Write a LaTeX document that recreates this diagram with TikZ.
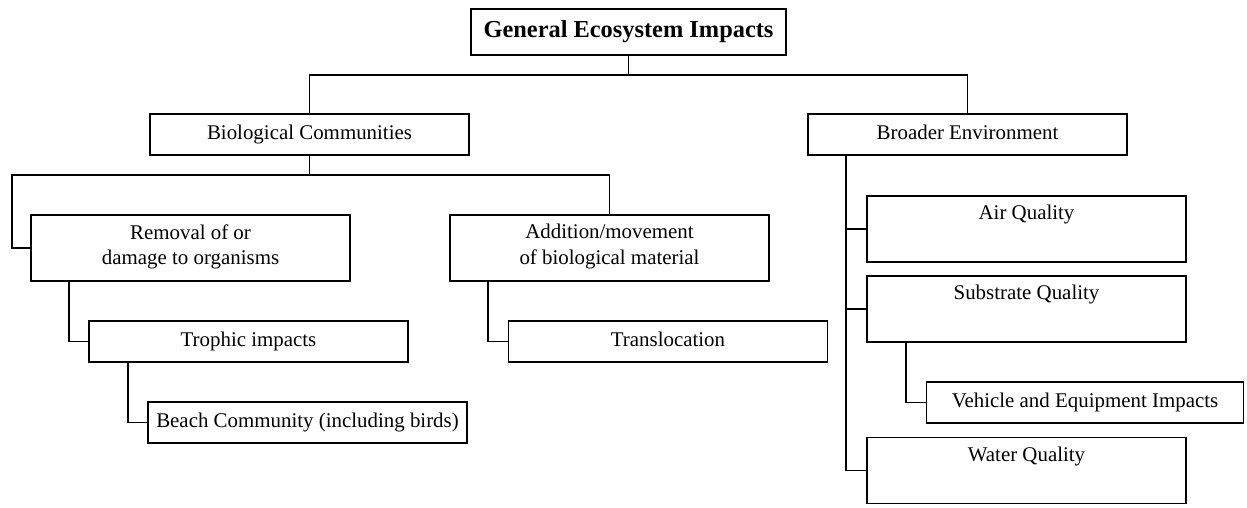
\documentclass[tikz,border=0pt]{standalone}
\usepackage{fontspec}
\setmainfont{Liberation Serif}
\tikzset{
  box/.style={draw,line width=1pt,minimum width=183pt,minimum height=23.5pt,inner sep=2pt,align=center,font=\fontsize{12}{14.4}\selectfont,execute at begin node=\strut},
  tallbox/.style={box,minimum height=37.9pt},
  link/.style={line width=1pt}
}

\begin{document}
\begin{tikzpicture}[x=0.5741pt,y=-0.5741pt]
\useasboundingbox (0,0) rectangle (1247,507);
% levels 0 and 1
\node[box,minimum width=180.8pt,minimum height=26.4pt,font=\fontsize{14}{17}\bfseries] (gen) at (628.5,32) {General Ecosystem Impacts};
\node[box] (bio) at (309.5,134.5) {Biological Communities};
\node[box] (broad) at (967.5,134.5) {Broader Environment};
\coordinate (bus1) at (0,75); \coordinate (bus2) at (12,175);
\draw[link] (bio.north) -- (bio.north |- bus1) -| (broad.north);
\draw[link] (gen.south) -- (gen.south |- bus1);
% biological communities
\node[tallbox] (removal) at (190.5,248) {Removal of or\\damage to organisms};
\node[tallbox] (addition) at (609.5,248) {Addition/movement\\of biological material};
\node[box] (trophic) at (248.5,341.5) {Trophic impacts};
\node[box] (transloc) at (668,341.5) {Translocation};
\node[box] (beach) at (307.5,422.5) {Beach Community (including birds)};
\draw[link] (removal.west) -| (bus2) -| (addition.north);
\draw[link] (bio.south) -- (bio.south |- bus2);
\draw[link] (removal.south west) ++(39,0) |- (trophic.west);
\draw[link] (trophic.south west) ++(40,0) |- (beach.west);
\draw[link] (addition.south west) ++(39,0) |- (transloc.west);
% broader environment
\node[tallbox] (air) at (1026.5,229) {Air Quality\\\strut};
\node[tallbox] (substrate) at (1026.5,309) {Substrate Quality\\\strut};
\node[box,minimum width=182pt] (vehicle) at (1085,402.5) {Vehicle and Equipment Impacts};
\node[tallbox] (water) at (1026.5,470.5) {Water Quality\\\strut};
\draw[link] (broad.south west) ++(39,0) |- (water.west);
\draw[link] (broad.south west) ++(39,0) |- (air.west);
\draw[link] (broad.south west) ++(39,0) |- (substrate.west);
\draw[link] (substrate.south west) ++(40,0) |- (vehicle.west);
\end{tikzpicture}
\end{document}
